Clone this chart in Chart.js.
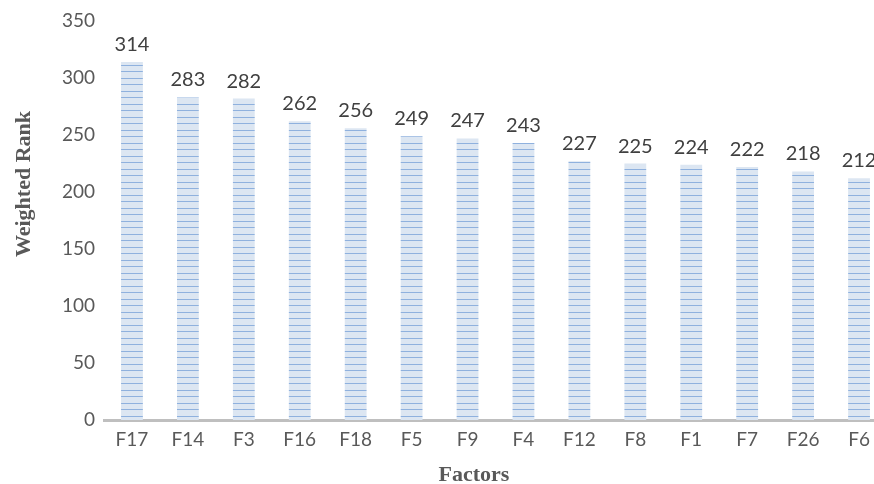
<!DOCTYPE html>
<html>
<head>
<meta charset="utf-8">
<script src="https://cdn.jsdelivr.net/npm/chart.js@4"></script>
<style>
  html, body { margin: 0; padding: 0; background: #ffffff; overflow: hidden; }
  #wrap { width: 902px; height: 484px; }
</style>
</head>
<body>
<div id="wrap"><canvas id="c" width="902" height="484"></canvas></div>
<script>
const factors = ["F17", "F14", "F3", "F16", "F18", "F5", "F9", "F4", "F12", "F8", "F1", "F7", "F26", "F6"];
const weightedRank = [314, 283, 282, 262, 256, 249, 247, 243, 227, 225, 224, 222, 218, 212];
const yTicks = [0, 50, 100, 150, 200, 250, 300, 350];
const xTitle = "Factors";
const yTitle = "Weighted Rank";

// light blue fill with thin horizontal stripes
function stripePattern() {
  const p = document.createElement("canvas");
  p.width = 8; p.height = 13;
  const g = p.getContext("2d");
  g.fillStyle = "#dce6f2";
  g.fillRect(0, 0, 8, 13);
  g.fillStyle = "#8fb1de";
  g.fillRect(0, 0, 8, 1);
  g.fillRect(0, 6, 8, 1);
  return g.createPattern(p, "repeat");
}

// value above each bar
const valueLabels = {
  id: "valueLabels",
  afterDatasetsDraw(chart) {
    const ctx = chart.ctx;
    const meta = chart.getDatasetMeta(0);
    ctx.save();
    ctx.font = "20px Lato";
    ctx.fillStyle = "#404040";
    ctx.textAlign = "center";
    ctx.textBaseline = "alphabetic";
    meta.data.forEach((bar, i) => {
      ctx.fillText(String(weightedRank[i]), bar.x, bar.y - 11);
    });
    ctx.restore();
  }
};

// axis titles, placed off-centre from the plot area
const axisTitles = {
  id: "axisTitles",
  afterDraw(chart) {
    const ctx = chart.ctx;
    const a = chart.chartArea;
    ctx.save();
    ctx.font = "bold 22px 'Liberation Serif'";
    ctx.fillStyle = "#595959";
    ctx.textAlign = "center";
    ctx.textBaseline = "alphabetic";
    ctx.fillText(xTitle, a.left + 370, chart.height - 3);
    ctx.translate(30, a.top + 163);
    ctx.rotate(-Math.PI / 2);
    ctx.fillText(yTitle, 0, 0);
    ctx.restore();
  }
};

new Chart(document.getElementById("c"), {
  type: "bar",
  data: {
    labels: factors,
    datasets: [{
      data: weightedRank,
      backgroundColor: stripePattern(),
      borderWidth: 0,
      barPercentage: 0.39,
      categoryPercentage: 1.0
    }]
  },
  options: {
    responsive: false,
    animation: false,
    devicePixelRatio: 1,
    layout: { padding: { top: 21, right: 15, left: 0, bottom: 0 } },
    plugins: { legend: { display: false }, tooltip: { enabled: false } },
    scales: {
      x: {
        grid: { display: false, drawTicks: false },
        border: { display: true, color: "#bfbfbf", width: 3 },
        ticks: { color: "#595959", font: { family: "Lato", size: 19 }, padding: 8, maxRotation: 0 },
        afterFit(s) { s.height = 64; }
      },
      y: {
        min: 0, max: 350,
        afterBuildTicks(s) { s.ticks = yTicks.map(v => ({ value: v })); },
        grid: { display: false, drawTicks: false },
        border: { display: false },
        ticks: { color: "#595959", font: { family: "Lato", size: 19 }, padding: 9 },
        afterFit(s) { s.width = 104; }
      }
    }
  },
  plugins: [valueLabels, axisTitles]
});
</script>
</body>
</html>
